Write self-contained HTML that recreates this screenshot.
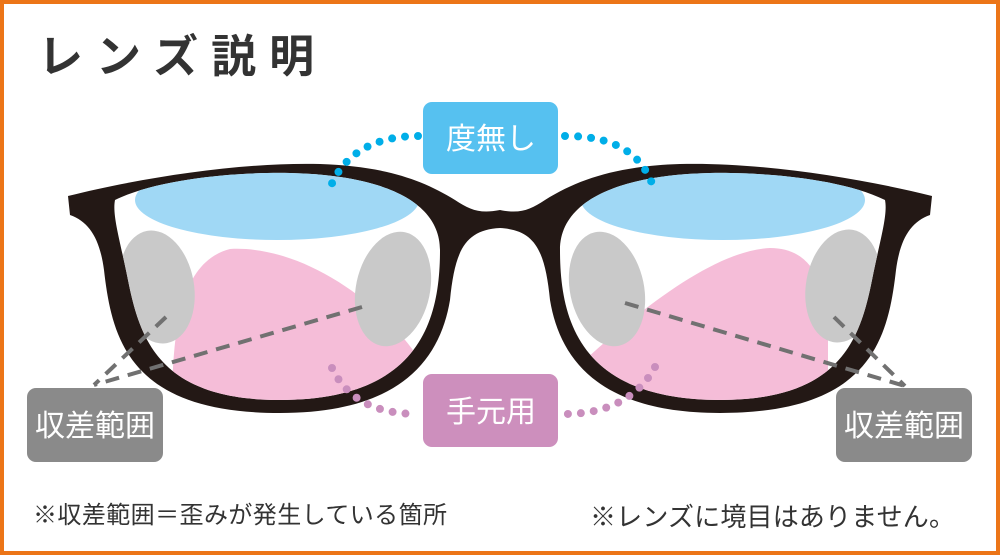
<!DOCTYPE html>
<html><head><meta charset="utf-8"><style>
html,body{margin:0;padding:0;background:#fff}
.w{position:relative;width:1000px;height:555px;box-sizing:border-box;border:4px solid #ec7518;overflow:hidden;font-family:"Liberation Sans","Noto Sans CJK JP",sans-serif}
svg{position:absolute;left:-4px;top:-4px}
</style></head><body><div class="w">
<svg width="1000" height="555" viewBox="0 0 1000 555">
<defs>
<path id="inL" d="M115,200 C160,178 240,172 290,173 C380,175 440,200 440,250 C440,320 420,400 280,400 C160,400 140,340 128,280 C120,240 112,215 115,200 Z"/>
<path id="inR" d="M885,200 C840,178 760,172 710,173 C620,175 560,200 560,250 C560,320 580,400 720,400 C840,400 860,340 872,280 C880,240 888,215 885,200 Z"/>
<clipPath id="cL"><use href="#inL"/></clipPath>
<clipPath id="cR"><use href="#inR"/></clipPath>
</defs>
<text x="38" y="72" font-size="45" font-weight="bold" fill="#333" letter-spacing="13" font-family="Liberation Sans,Noto Sans CJK JP,sans-serif">レンズ説明</text>
<g fill="#231815">
<path d="M500,210 C480,214 470,210 455,200 C420,178 380,166 320,164 C240,162 140,178 68,196 L70,215 C90,222 100,240 104,270 C112,340 130,413 280,413 C400,413 440,360 450,300 C455,250 465,230 500,228 Z"/>
<path transform="translate(1000,0) scale(-1,1)" d="M500,210 C480,214 470,210 455,200 C420,178 380,166 320,164 C240,162 140,178 68,196 L70,215 C90,222 100,240 104,270 C112,340 130,413 280,413 C400,413 440,360 450,300 C455,250 465,230 500,228 Z"/>
</g>
<use href="#inL" fill="#fff"/><use href="#inR" fill="#fff"/>
<g clip-path="url(#cL)">
<ellipse cx="277" cy="200" rx="142" ry="40" fill="#a0d8f5"/>
<path d="M172,410 C172,330 180,262 230,249 C300,245 380,300 420,360 L430,420 Z" fill="#f5bdd8"/>
<ellipse cx="157" cy="287" rx="37" ry="57" transform="rotate(-10 157 287)" fill="#c9c9c9"/>
<ellipse cx="393" cy="289" rx="37" ry="58" transform="rotate(12 393 289)" fill="#c9c9c9"/>
</g>
<g clip-path="url(#cR)">
<ellipse cx="723" cy="200" rx="142" ry="40" fill="#a0d8f5"/>
<path d="M585,360 C650,300 720,250 770,248 C810,248 828,280 828,340 L828,420 L585,420 Z" fill="#f5bdd8"/>
<ellipse cx="607" cy="289" rx="37" ry="58" transform="rotate(-12 607 289)" fill="#c9c9c9"/>
<ellipse cx="843" cy="286" rx="37" ry="57" transform="rotate(10 843 286)" fill="#c9c9c9"/>
</g>
<g stroke="#717171" stroke-width="4" stroke-dasharray="14 9" fill="none">
<path d="M362,307 L94,385"/><path d="M166,317 L94,385"/>
<path d="M625,303 L905,386"/><path d="M834,317 L905,386"/>
</g>
<g fill="none" stroke-linecap="round" stroke-dasharray="0 13" stroke-width="8">
<path d="M418,136 C380,136 345,150 330,188" stroke="#00aee8"/>
<path d="M565,136 C610,136 640,150 653,186" stroke="#00aee8"/>
<path d="M332,368 C345,395 370,414 418,414" stroke="#c98ebd"/>
<path d="M655,367 C640,395 610,414 565,414" stroke="#c98ebd"/>
</g>
<rect x="423" y="102" width="135" height="72" rx="9" fill="#56c1f0"/>
<rect x="423" y="374" width="135" height="73" rx="9" fill="#cd8fbd"/>
<rect x="27" y="388" width="136" height="74" rx="9" fill="#8a8a8a"/>
<rect x="836" y="388" width="136" height="74" rx="9" fill="#8a8a8a"/>
<g fill="#fff" font-size="30" text-anchor="middle" font-family="Liberation Sans,Noto Sans CJK JP,sans-serif">
<text x="491" y="149">度無し</text>
<text x="491" y="422">手元用</text>
<text x="95" y="436">収差範囲</text>
<text x="904" y="436">収差範囲</text>
</g>
<g fill="#333" font-family="Liberation Sans,Noto Sans CJK JP,sans-serif">
<text x="33" y="523" font-size="24" textLength="414">※収差範囲＝歪みが発生している箇所</text>
<text x="590" y="526" font-size="26" textLength="365">※レンズに境目はありません。</text>
</g>
</svg>
</div></body></html>
